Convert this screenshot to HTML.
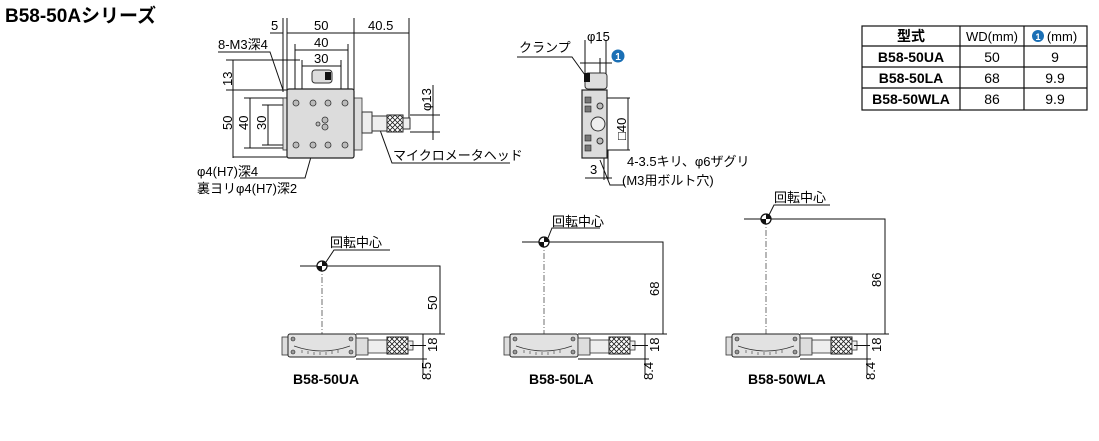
<!DOCTYPE html>
<html><head><meta charset="utf-8"><style>
body{margin:0;background:#fff;width:1099px;height:436px;overflow:hidden}
svg{font-family:"Liberation Sans","Noto Sans CJK JP",sans-serif}
</style></head><body>
<svg width="1099" height="436" viewBox="0 0 1099 436" xmlns="http://www.w3.org/2000/svg">
<defs>
<pattern id="kn" width="5" height="5" patternUnits="userSpaceOnUse">
<rect width="5" height="5" fill="#fff"/><path d="M0 0L5 5M5 0L0 5" stroke="#222" stroke-width="0.8"/></pattern>
<g id="bv">
 <rect x="-40" y="3" width="7" height="18" fill="#ddd" stroke="#333" stroke-width="0.8"/>
 <rect x="-34" y="0" width="68" height="23" rx="2" fill="#e2e2e2" stroke="#222" stroke-width="1"/>
 <path d="M-28 12 Q0 22 28 12" fill="none" stroke="#333" stroke-width="0.8"/>
 <path d="M-20 16v3M-14 17v3M-8 18v3M-2 18v3M4 18v3M10 17v3M16 16v3" stroke="#333" stroke-width="0.6"/>
 <circle cx="-29" cy="5" r="2" fill="#999" stroke="#222" stroke-width="0.6"/><circle cx="29" cy="5" r="2" fill="#999" stroke="#222" stroke-width="0.6"/>
 <circle cx="-29" cy="18" r="2" fill="#999" stroke="#222" stroke-width="0.6"/><circle cx="29" cy="18" r="2" fill="#999" stroke="#222" stroke-width="0.6"/>
 <rect x="34" y="4" width="12" height="17" fill="#ddd" stroke="#333" stroke-width="0.8"/>
 <rect x="46" y="6" width="19" height="13" fill="#eee" stroke="#333" stroke-width="0.8"/>
 <rect x="65" y="3" width="21" height="17" fill="url(#kn)" stroke="#222" stroke-width="1"/>
 <rect x="86" y="7" width="5" height="9" fill="#eee" stroke="#333" stroke-width="0.8"/>
 <path d="M34 0H123M34 25H105M101 0V40M88 11.5H104" stroke="#111" stroke-width="1" fill="none"/>
</g>
</defs>
<text x="5" y="22" font-size="19" font-weight="bold">B58-50Aシリーズ</text>

<!-- top view -->
<g stroke="#111" stroke-width="1" fill="none">
 <path d="M283 18V92M287 18V90M354 18V90M409 18V118M287 33H409M270 33H283"/>
 <path d="M295 44V90M348 44V90M295 50H348M302 60V90M341 60V90M302 66H341"/>
 <path d="M233 60V158M226 60H300M226 90H287M233 157H287M250 98V148M244 98H287M244 148H287M268 105V145M262 105H287M262 145H287"/>
 <path d="M218 52H270L283 90"/>
 <path d="M433 85V140M410 115H440M410 132H440"/>
 <path d="M380 130L392 163H510"/>
 <path d="M320 125L305 178H240"/>
</g>
<rect x="283" y="98" width="5" height="52" fill="#ddd" stroke="#333" stroke-width="0.8"/>
<rect x="354" y="98" width="8" height="52" fill="#ddd" stroke="#333" stroke-width="0.8"/>
<rect x="312" y="70" width="20" height="13" rx="3" fill="#ddd" stroke="#333"/><rect x="325" y="72" width="6" height="8" fill="#111"/>
<rect x="287" y="89" width="67" height="69" rx="2" fill="#dcdcdc" stroke="#222" stroke-width="1.2"/>
<g fill="#bbb" stroke="#333" stroke-width="0.8">
 <circle cx="296" cy="103" r="3"/><circle cx="313" cy="103" r="3"/><circle cx="328" cy="103" r="3"/><circle cx="345" cy="103" r="3"/>
 <circle cx="296" cy="145" r="3"/><circle cx="313" cy="145" r="3"/><circle cx="328" cy="145" r="3"/><circle cx="345" cy="145" r="3"/>
 <circle cx="325" cy="120" r="3"/><circle cx="325" cy="127" r="3"/><circle cx="318" cy="124" r="2"/>
</g>
<rect x="362" y="112" width="10" height="21" fill="#eee" stroke="#333"/>
<rect x="372" y="116" width="15" height="15" fill="#eee" stroke="#333"/>
<rect x="387" y="115" width="16" height="17" fill="url(#kn)" stroke="#222"/>
<rect x="403" y="118" width="7" height="11" fill="#eee" stroke="#333"/>
<g font-size="13">
<text x="271" y="30">5</text><text x="314" y="30">50</text><text x="368" y="30">40.5</text>
<text x="314" y="47">40</text><text x="314" y="63">30</text>
<text x="218" y="49">8-M3深4</text>
<text transform="translate(232,86) rotate(-90)">13</text>
<text transform="translate(232,130) rotate(-90)">50</text>
<text transform="translate(248,130) rotate(-90)">40</text>
<text transform="translate(266,130) rotate(-90)">30</text>
<text transform="translate(431,111) rotate(-90)">φ13</text>
<text x="393" y="160">マイクロメータヘッド</text>
<text x="197" y="176">φ4(H7)深4</text>
<text x="197" y="193">裏ヨリφ4(H7)深2</text>
</g>

<!-- side view -->
<g stroke="#111" stroke-width="1" fill="none">
 <path d="M585 40V75M606 40V75M580 63H612M600 58V110M517 57H572L585 75"/>
 <path d="M600 98H630M600 150H630M628 98V150M600 160L610 185H625M604 150V180M608 150V180M585 178H612"/>
</g>
<rect x="585" y="73" width="22" height="16" rx="3" fill="#ddd" stroke="#333"/><rect x="584" y="73" width="6" height="9" fill="#111"/>
<rect x="582" y="90" width="25" height="68" fill="#dcdcdc" stroke="#222" stroke-width="1.2"/>
<g fill="#777" stroke="#222" stroke-width="0.6">
 <rect x="585" y="97" width="6" height="6"/><rect x="585" y="106" width="6" height="6"/><rect x="585" y="135" width="6" height="6"/><rect x="585" y="145" width="6" height="6"/>
</g>
<circle cx="598" cy="124" r="7" fill="#eee" stroke="#333"/><circle cx="600" cy="106" r="3" fill="#bbb" stroke="#333"/><circle cx="600" cy="141" r="3" fill="#bbb" stroke="#333"/>
<circle cx="618" cy="56" r="6.5" fill="#1a6fb5"/><text x="618" y="60" font-size="10" font-weight="bold" fill="#fff" text-anchor="middle">1</text>
<g font-size="13">
<text x="519" y="52">クランプ</text><text x="587" y="41">φ15</text>
<text transform="translate(626,140) rotate(-90)">□40</text>
<text x="590" y="174">3</text>
<text x="627" y="166">4-3.5キリ、φ6ザグリ</text>
<text x="622" y="185">(M3用ボルト穴)</text>
</g>

<!-- table -->
<g stroke="#111" stroke-width="1.2" fill="none">
<rect x="862" y="26" width="225" height="84"/>
<path d="M862 46H1087M862 67H1087M862 88H1087M960 26V110M1024 26V110"/>
</g>
<g font-size="14" text-anchor="middle">
<text x="911" y="41" font-weight="bold">型式</text><text x="992" y="41" font-size="13">WD(mm)</text>
<circle cx="1038" cy="36" r="6" fill="#1a6fb5"/><text x="1038" y="40" font-size="9" fill="#fff" font-weight="bold">1</text><text x="1062" y="41" font-size="13">(mm)</text>
<text x="911" y="62" font-weight="bold">B58-50UA</text><text x="992" y="62">50</text><text x="1055" y="62">9</text>
<text x="911" y="83" font-weight="bold">B58-50LA</text><text x="992" y="83">68</text><text x="1055" y="83">9.9</text>
<text x="911" y="104" font-weight="bold">B58-50WLA</text><text x="992" y="104">86</text><text x="1055" y="104">9.9</text>
</g>

<!-- bottom views -->
<g stroke="#333" stroke-width="0.7" stroke-dasharray="6 2 1 2" fill="none">
<path d="M322 266V334M544 242V334M766 219V334"/>
</g>
<use href="#bv" x="322" y="334"/>
<use href="#bv" x="544" y="334"/>
<use href="#bv" x="766" y="334"/>
<g stroke="#111" stroke-width="1" fill="none">
<path d="M300 266H440V334"/>
<path d="M522 242H663V334"/>
<path d="M744 219H885V334"/>
<path d="M326 262L334 250H390M548 238L552 228H600M769 215L774 205H830"/>
</g>
<g>
<circle cx="322" cy="266" r="5" fill="#fff" stroke="#111" stroke-width="1.3"/><path d="M322 261A5 5 0 0 1 327 266H322Z M322 271A5 5 0 0 1 317 266H322Z" fill="#111"/>
<circle cx="544" cy="242" r="5" fill="#fff" stroke="#111" stroke-width="1.3"/><path d="M544 237A5 5 0 0 1 549 242H544Z M544 247A5 5 0 0 1 539 242H544Z" fill="#111"/>
<circle cx="766" cy="219" r="5" fill="#fff" stroke="#111" stroke-width="1.3"/><path d="M766 214A5 5 0 0 1 771 219H766Z M766 224A5 5 0 0 1 761 219H766Z" fill="#111"/>
</g>
<g font-size="13">
<text x="330" y="247">回転中心</text><text x="552" y="226">回転中心</text><text x="774" y="202">回転中心</text>
<text transform="translate(437,310) rotate(-90)">50</text>
<text transform="translate(659,296) rotate(-90)">68</text>
<text transform="translate(881,287) rotate(-90)">86</text>
<text transform="translate(437,352) rotate(-90)">18</text>
<text transform="translate(659,352) rotate(-90)">18</text>
<text transform="translate(881,352) rotate(-90)">18</text>
<text transform="translate(431,380) rotate(-90)">8.5</text>
<text transform="translate(653,380) rotate(-90)">8.4</text>
<text transform="translate(875,380) rotate(-90)">8.4</text>
</g>
<g font-size="14" font-weight="bold">
<text x="293" y="384">B58-50UA</text><text x="529" y="384">B58-50LA</text><text x="748" y="384">B58-50WLA</text>
</g>
</svg>
</body></html>
